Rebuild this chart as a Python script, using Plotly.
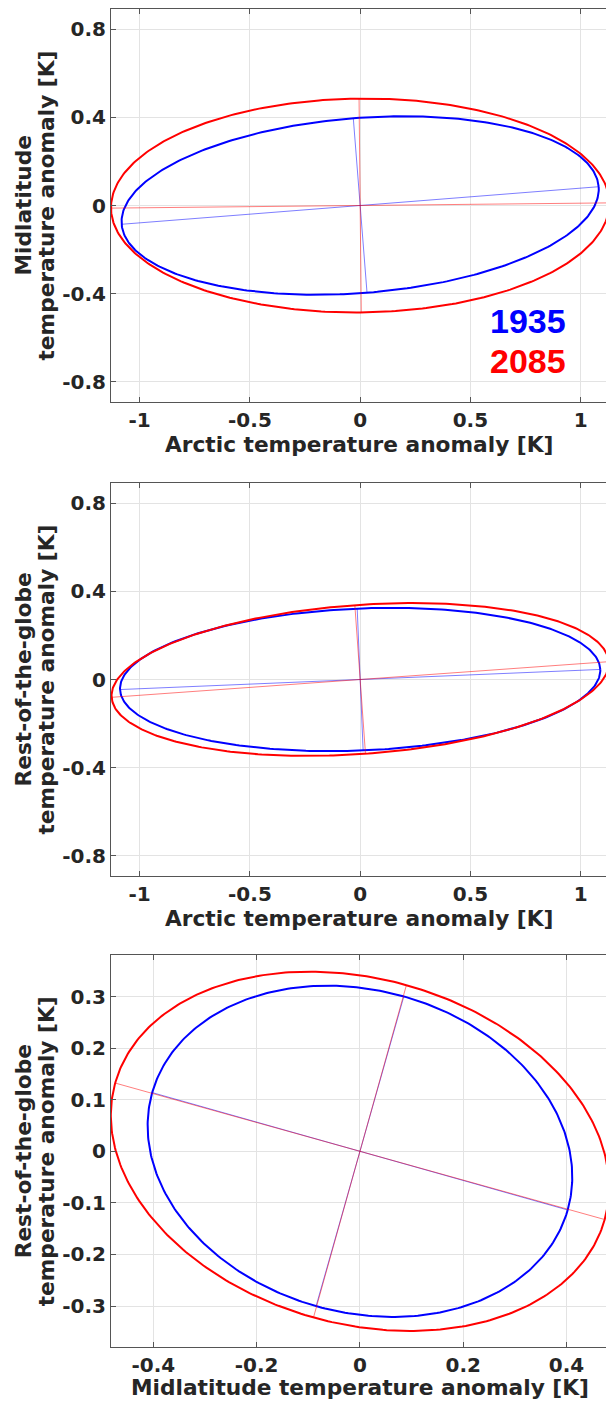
import numpy as np
import plotly.graph_objects as go

W, H = 606, 1401
ML = 111  # left margin px

# ---------------- data ----------------
years = ["1935", "2085"]
colors = ["#0000ff", "#ff0000"]

# panel 1: Arctic (x) vs Midlatitude (y)
p1_semi_major = [1.085, 1.130]
p1_semi_minor = [0.397, 0.485]
p1_angle_deg = [4.5, 0.6]

# panel 2: Arctic (x) vs Rest-of-the-globe (y)
p2_semi_major = [1.090, 1.130]
p2_semi_minor = [0.322, 0.338]
p2_angle_deg = [2.4, 4.1]

# panel 3: Midlatitude (x) vs Rest-of-the-globe (y)
p3_semi_major = [0.418, 0.492]
p3_semi_minor = [0.312, 0.3345]
p3_angle_deg = [-15.8, -15.6]

p12_xticks = [-1, -0.5, 0, 0.5, 1]
p12_xticklabels = ["-1", "-0.5", "0", "0.5", "1"]
p12_yticks = [-0.8, -0.4, 0, 0.4, 0.8]
p12_yticklabels = ["-0.8", "-0.4", "0", "0.4", "0.8"]
p3_xticks = [-0.4, -0.2, 0, 0.2, 0.4]
p3_xticklabels = ["-0.4", "-0.2", "0", "0.2", "0.4"]
p3_yticks = [-0.3, -0.2, -0.1, 0, 0.1, 0.2, 0.3]
p3_yticklabels = ["-0.3", "-0.2", "-0.1", "0", "0.1", "0.2", "0.3"]

x_titles = ["Arctic temperature anomaly [K]",
            "Arctic temperature anomaly [K]",
            "Midlatitude temperature anomaly [K]"]
y_titles = [["Midlatitude", "temperature anomaly [K]"],
            ["Rest-of-the-globe", "temperature anomaly [K]"],
            ["Rest-of-the-globe", "temperature anomaly [K]"]]

# ---------------- layout geometry (pixels) ----------------
panels_px = [(9.3, 401.7), (483.3, 875.7), (955.3, 1347.3)]  # top, bottom
x_title_offset = [43, 43, 40.5]
x_ranges = [[-1.13, -1.13 + (W - ML) / 220.5],
            [-1.13, -1.13 + (W - ML) / 220.5],
            [-0.482, -0.482 + (W - ML) / 516.5]]
y_ranges = [[-0.89, 0.89], [-0.89, 0.89], [-0.38, 0.38]]

TICKFONT = dict(family="DejaVu Sans", size=20, color="#262626", weight="bold")
TITLEFONT = dict(family="DejaVu Sans", size=21.7, color="#262626", weight="bold")

fig = go.Figure()

tt = np.linspace(0, 2 * np.pi, 400)
panels = [(p1_semi_major, p1_semi_minor, p1_angle_deg),
          (p2_semi_major, p2_semi_minor, p2_angle_deg),
          (p3_semi_major, p3_semi_minor, p3_angle_deg)]

for k, (A, B, TH) in enumerate(panels):
    xa = "x" if k == 0 else f"x{k+1}"
    ya = "y" if k == 0 else f"y{k+1}"
    # ellipses
    for i in range(2):
        th = np.deg2rad(TH[i])
        ex = A[i] * np.cos(tt) * np.cos(th) - B[i] * np.sin(tt) * np.sin(th)
        ey = A[i] * np.cos(tt) * np.sin(th) + B[i] * np.sin(tt) * np.cos(th)
        fig.add_trace(go.Scatter(x=ex, y=ey, mode="lines", xaxis=xa, yaxis=ya,
                                 line=dict(color=colors[i], width=2),
                                 showlegend=False, hoverinfo="skip"))
    # principal axes
    for i in range(2):
        th = np.deg2rad(TH[i])
        mx = [-A[i] * np.cos(th), A[i] * np.cos(th)]
        my = [-A[i] * np.sin(th), A[i] * np.sin(th)]
        nx = [B[i] * np.sin(th), -B[i] * np.sin(th)]
        ny = [-B[i] * np.cos(th), B[i] * np.cos(th)]
        for (lx, ly) in [(mx, my), (nx, ny)]:
            fig.add_trace(go.Scatter(x=lx, y=ly, mode="lines", xaxis=xa, yaxis=ya,
                                     line=dict(color=colors[i], width=1),
                                     opacity=0.5, showlegend=False, hoverinfo="skip"))

layout = dict(width=W, height=H, margin=dict(l=ML, r=0, t=0, b=0),
              paper_bgcolor="white", plot_bgcolor="white", showlegend=False)

xt = [(p12_xticks, p12_xticklabels), (p12_xticks, p12_xticklabels), (p3_xticks, p3_xticklabels)]
yt = [(p12_yticks, p12_yticklabels), (p12_yticks, p12_yticklabels), (p3_yticks, p3_yticklabels)]

annotations = []
for k in range(3):
    top, bot = panels_px[k]
    dom = [(H - bot) / H, (H - top) / H]
    sfx = "" if k == 0 else str(k + 1)
    common = dict(showgrid=True, gridcolor="#e3e3e3", gridwidth=1, zeroline=False,
                  showline=True, linecolor="#555555", linewidth=1,
                  ticks="inside", ticklen=5, tickcolor="#555555",
                  tickfont=TICKFONT, automargin=False, fixedrange=True)
    layout["xaxis" + sfx] = dict(common, domain=[0, 1], range=x_ranges[k],
                                 anchor="y" + sfx, mirror="ticks",
                                 tickvals=xt[k][0], ticktext=xt[k][1])
    layout["yaxis" + sfx] = dict(common, domain=dom, range=y_ranges[k],
                                 anchor="x" + sfx, mirror=False,
                                 tickvals=yt[k][0], ticktext=yt[k][1])
    # x title
    annotations.append(dict(text=x_titles[k], xref="paper", yref="paper",
                            x=(359.7 - ML) / (W - ML),
                            y=(H - (bot + x_title_offset[k])) / H,
                            xanchor="center", yanchor="middle", showarrow=False,
                            borderpad=0, font=TITLEFONT))
    # y titles (two lines)
    ymid = (H - (top + bot) / 2) / H
    for j, px in enumerate([23, 46]):
        annotations.append(dict(text=y_titles[k][j], xref="paper", yref="paper",
                                x=(px - ML) / (W - ML), y=ymid, textangle=-90,
                                xanchor="center", yanchor="middle", showarrow=False,
                                borderpad=0, font=TITLEFONT))

# year labels in panel 1
year_pos_x = [0.759, 0.759]
year_pos_y = [-0.524, -0.706]
for i in range(2):
    annotations.append(dict(text=years[i], xref="x", yref="y",
                            x=year_pos_x[i], y=year_pos_y[i], showarrow=False,
                            xanchor="center", yanchor="middle",
                            font=dict(family="Liberation Sans", size=34,
                                      color=colors[i], weight="bold")))

layout["annotations"] = annotations
fig.update_layout(**layout)
fig.write_html("out.html")
